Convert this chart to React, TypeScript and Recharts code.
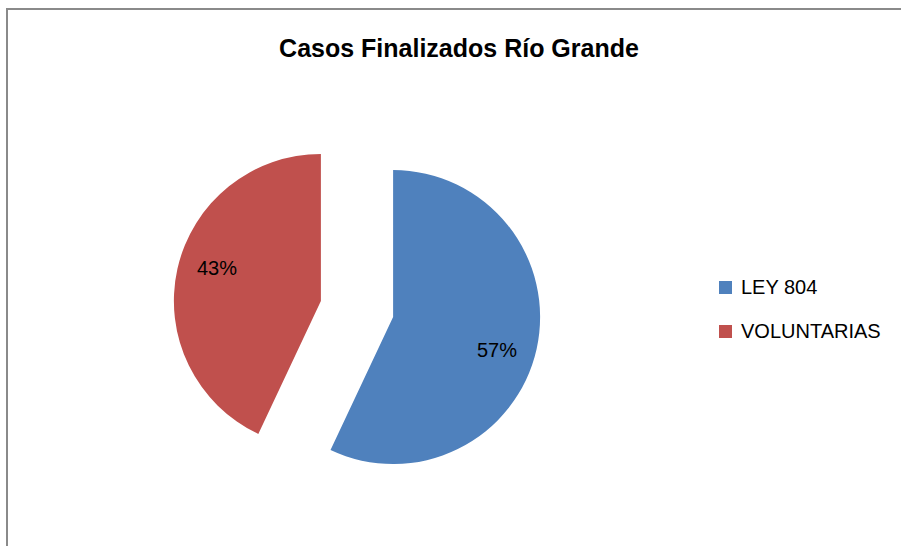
import React from "react"
import { PieChart, Pie, Cell, Legend, Sector } from "recharts"

const categories = ["LEY 804", "VOLUNTARIAS"]
const values = [57, 43]
const colors = ["#4F81BD", "#C0504D"]

const data = categories.map((name, i) => ({ name, value: values[i] }))

const RADIAN = Math.PI / 180
const EXPLODE = 37
const FONT = "'Liberation Sans', Arial, sans-serif"

function ExplodedSector(props: any) {
  const { cx, cy, midAngle } = props
  const dx = EXPLODE * Math.cos(-midAngle * RADIAN)
  const dy = EXPLODE * Math.sin(-midAngle * RADIAN)
  return <Sector {...props} cx={cx + dx} cy={cy + dy} stroke="none" />
}

function renderLabel(props: any) {
  const { cx, cy, midAngle, percent } = props
  const ox = cx + EXPLODE * Math.cos(-midAngle * RADIAN)
  const oy = cy + EXPLODE * Math.sin(-midAngle * RADIAN)
  // excel's best-fit puts the label a little clockwise of the bisector
  const a = (midAngle - 5) * RADIAN
  const r = 109
  return (
    <text
      x={ox + r * Math.cos(-a)}
      y={oy + r * Math.sin(-a)}
      fill="#000"
      textAnchor="middle"
      dominantBaseline="central"
      fontFamily={FONT}
      fontSize={20}
    >
      {`${Math.round(percent * 100)}%`}
    </text>
  )
}

function LegendContent(props: any) {
  const { payload = [] } = props
  return (
    <div style={{ fontFamily: FONT, fontSize: 20, color: "#000" }}>
      {payload.map((p: any, i: number) => (
        <div key={i} style={{ display: "flex", alignItems: "center", height: 44 }}>
          <span
            style={{
              display: "inline-block",
              width: 13,
              height: 13,
              background: colors[i % colors.length],
              marginRight: 9,
            }}
          />
          <span>{categories[i] ?? p.value}</span>
        </div>
      ))}
    </div>
  )
}

export default function App() {
  return (
    <div
      style={{
        position: "absolute",
        left: 0,
        top: 0,
        width: 901,
        height: 546,
        overflow: "hidden",
        background: "#fff",
      }}
    >
      <div
        style={{
          position: "absolute",
          left: 6,
          top: 8,
          width: 1200,
          height: 1200,
          borderLeft: "2px solid #8a8a8a",
          borderTop: "2px solid #8a8a8a",
        }}
      />
      <svg width={901} height={546} style={{ position: "absolute", left: 0, top: 0 }}>
        <text
          x={459}
          y={57}
          textAnchor="middle"
          fontFamily={FONT}
          fontWeight="bold"
          fontSize={25}
          fill="#000"
        >
          Casos Finalizados Río Grande
        </text>
      </svg>
      <div style={{ position: "absolute", left: 0, top: 0 }}>
        <PieChart width={901} height={546} margin={{ top: 0, right: 0, bottom: 0, left: 0 }}>
          <Pie
            data={data}
            dataKey="value"
            nameKey="name"
            cx={357}
            cy={309}
            outerRadius={147}
            startAngle={90}
            endAngle={-270}
            shape={ExplodedSector}
            label={renderLabel}
            labelLine={false}
            isAnimationActive={false}
          >
            {data.map((entry, i) => (
              <Cell key={entry.name} fill={colors[i % colors.length]} />
            ))}
          </Pie>
          <Legend
            layout="vertical"
            align="right"
            verticalAlign="middle"
            content={LegendContent}
            wrapperStyle={{ left: 719, top: 265, width: 180, right: "auto", bottom: "auto" }}
          />
        </PieChart>
      </div>
    </div>
  )
}
